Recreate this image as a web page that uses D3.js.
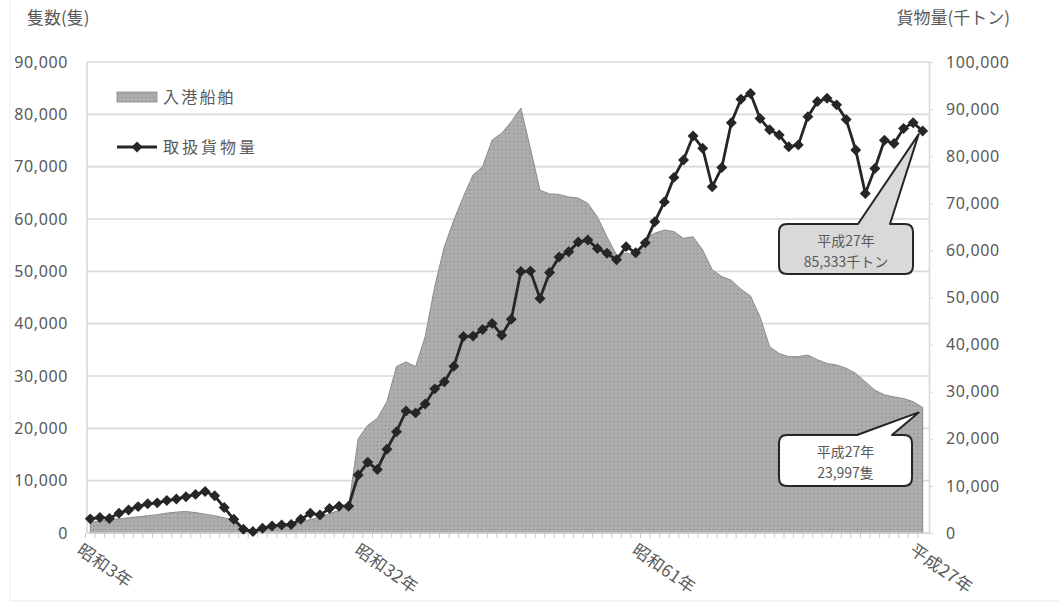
<!DOCTYPE html>
<html>
<head>
<meta charset="utf-8">
<script src="https://cdn.jsdelivr.net/npm/d3@7"></script>
<style>
  body { margin: 0; background: #fff; }
  text { font-family: "Noto Sans CJK JP", "Noto Sans", sans-serif; fill: #595959; }
</style>
</head>
<body>
<svg></svg>
<script>
// 昭和3年(1928) - 平成27年(2015)
const years = [
  1928, 1929, 1930, 1931, 1932, 1933, 1934, 1935, 1936, 1937,
  1938, 1939, 1940, 1941, 1942, 1943, 1944, 1945, 1946, 1947,
  1948, 1949, 1950, 1951, 1952, 1953, 1954, 1955, 1956, 1957,
  1958, 1959, 1960, 1961, 1962, 1963, 1964, 1965, 1966, 1967,
  1968, 1969, 1970, 1971, 1972, 1973, 1974, 1975, 1976, 1977,
  1978, 1979, 1980, 1981, 1982, 1983, 1984, 1985, 1986, 1987,
  1988, 1989, 1990, 1991, 1992, 1993, 1994, 1995, 1996, 1997,
  1998, 1999, 2000, 2001, 2002, 2003, 2004, 2005, 2006, 2007,
  2008, 2009, 2010, 2011, 2012, 2013, 2014, 2015
];

// 入港船舶 (隻)
const ships = [
  2000, 2300, 2500, 2700, 2900, 3100, 3300, 3500, 3800, 4000,
  4100, 3900, 3600, 3300, 2900, 2400, 800, 300, 700, 1000,
  1200, 1500, 2000, 2600, 3000, 3700, 4300, 5000, 18000, 20600,
  21900, 25100, 31800, 32700, 31800, 37500, 47100, 54700, 59800, 64300,
  68400, 70000, 75100, 76400, 78600, 81200, 73500, 65500, 64800, 64700,
  64200, 64000, 63000, 60400, 56600, 53100, 53500, 53000, 56300, 57300,
  57900, 57600, 56300, 56600, 54100, 50300, 49000, 48300, 46600, 45300,
  41300, 35600, 34300, 33700, 33700, 34000, 33100, 32400, 32100, 31500,
  30500, 28900, 27300, 26400, 26000, 25700, 25100, 23997
];

// 取扱貨物量 (千トン)
const cargo = [
  3000, 3300, 3100, 4200, 4900, 5600, 6200, 6400, 6900, 7200,
  7700, 8200, 8800, 7900, 5400, 2900, 800, 300, 1000, 1500,
  1700, 1800, 2900, 4200, 3800, 5200, 5700, 5700, 12300, 15000,
  13500, 17800, 21500, 25900, 25500, 27400, 30600, 32100, 35400, 41700,
  41800, 43200, 44500, 42000, 45400, 55500, 55600, 49800, 55300, 58600,
  59700, 61800, 62200, 60400, 59400, 58000, 60800, 59500, 61600, 66100,
  70300, 75500, 79200, 84300, 81700, 73500, 77600, 87100, 92100, 93300,
  88000, 85600, 84500, 82000, 82400, 88400, 91600, 92300, 90900, 87800,
  81300, 72100, 77400, 83400, 82700, 85900, 87100, 85333
];

const xLabelYears = [1928, 1957, 1986, 2015];
const xLabelTexts = ["昭和3年", "昭和32年", "昭和61年", "平成27年"];
const leftTicks = [0, 10000, 20000, 30000, 40000, 50000, 60000, 70000, 80000, 90000];
const rightTicks = [0, 10000, 20000, 30000, 40000, 50000, 60000, 70000, 80000, 90000, 100000];

function drawChart() {
  const width = 1059;
  const height = 604;
  const left = 87;
  const right = 929;
  const top = 62;
  const bottom = 533;

  const svg = d3.select("svg").attr("width", width).attr("height", height);

  // dotted fill like the original area
  const pat = svg.append("defs").append("pattern")
    .attr("id", "dots")
    .attr("width", 4)
    .attr("height", 4)
    .attr("patternUnits", "userSpaceOnUse");
  pat.append("rect").attr("width", 4).attr("height", 4).attr("fill", "#adadad");
  pat.append("rect").attr("x", 1).attr("y", 1).attr("width", 1.2).attr("height", 1.2).attr("fill", "#8a8a8a");

  // outer chart border (faint)
  svg.append("line").attr("x1", 10).attr("x2", width).attr("y1", 601).attr("y2", 601)
    .attr("stroke", "#e8e8e8");
  svg.append("line").attr("x1", 10).attr("x2", 10).attr("y1", 0).attr("y2", 601)
    .attr("stroke", "#f0f0f0");

  const x = d3.scalePoint(years, [85.5, 927.5]).padding(0.5);
  const step = x.step();
  const yL = d3.scaleLinear([0, 90000], [bottom, top]);
  const yR = d3.scaleLinear([0, 100000], [bottom, top]);

  // gridlines
  svg.append("g")
    .selectAll("line")
    .data(leftTicks)
    .join("line")
    .attr("x1", left)
    .attr("x2", right)
    .attr("y1", (d) => yL(d))
    .attr("y2", (d) => yL(d))
    .attr("stroke", "#d9d9d9")
    .attr("stroke-width", 1.6);

  // left axis labels
  const gl = svg.append("g")
    .attr("transform", `translate(${left},0)`)
    .call(d3.axisLeft(yL).tickValues(leftTicks).tickSize(0).tickPadding(19).tickFormat(d3.format(",")));
  gl.select(".domain").remove();
  gl.selectAll("text").attr("font-size", 16).attr("letter-spacing", 0.6).style("font-family", "'Noto Sans', sans-serif").attr("fill", "#595959");

  // right axis
  const gr = svg.append("g")
    .attr("transform", `translate(${right},0)`)
    .call(d3.axisRight(yR).tickValues(rightTicks).tickSize(4).tickPadding(13).tickFormat(d3.format(",")));
  gr.select(".domain").attr("stroke", "#d9d9d9").attr("stroke-width", 1.6);
  gr.selectAll("line").attr("stroke", "#d9d9d9");
  gr.selectAll("text").attr("font-size", 16).attr("letter-spacing", 0.6).style("font-family", "'Noto Sans', sans-serif").attr("fill", "#595959");

  // left axis line
  svg.append("line").attr("x1", left).attr("x2", left).attr("y1", top).attr("y2", bottom)
    .attr("stroke", "#d9d9d9").attr("stroke-width", 1.6);

  // area : 入港船舶
  svg.append("path")
    .datum(ships)
    .attr("fill", "url(#dots)")
    .attr("stroke", "#8c8c8c")
    .attr("stroke-width", 1)
    .attr("d", d3.area()
      .x((d, i) => x(years[i]))
      .y0(bottom)
      .y1((d) => yL(d)));

  // bottom axis with category ticks
  svg.append("line").attr("x1", left).attr("x2", right).attr("y1", bottom).attr("y2", bottom)
    .attr("stroke", "#d9d9d9").attr("stroke-width", 1.6);
  svg.append("g")
    .selectAll("line")
    .data(years)
    .join("line")
    .attr("x1", (d) => x(d) - step / 2)
    .attr("x2", (d) => x(d) - step / 2)
    .attr("y1", bottom)
    .attr("y2", bottom + 5)
    .attr("stroke", "#c8c8c8");

  svg.append("g")
    .selectAll("text")
    .data(xLabelYears)
    .join("text")
    .attr("transform", (d) => `translate(${x(d) - 6},${bottom + 8}) rotate(35)`)
    .attr("dy", "0.85em")
    .attr("font-size", 17)
    .attr("letter-spacing", 0.5)
    .attr("fill", "#404040")
    .text((d, i) => xLabelTexts[i]);

  // line : 取扱貨物量
  svg.append("path")
    .datum(cargo)
    .attr("fill", "none")
    .attr("stroke", "#262626")
    .attr("stroke-width", 2.8)
    .attr("d", d3.line()
      .x((d, i) => x(years[i]))
      .y((d) => yR(d)));

  const diamond = d3.symbol(d3.symbolSquare, 60);
  svg.append("g")
    .selectAll("path")
    .data(cargo)
    .join("path")
    .attr("transform", (d, i) => `translate(${x(years[i])},${yR(d)}) rotate(45)`)
    .attr("d", diamond)
    .attr("fill", "#262626");

  // legend
  svg.append("rect").attr("x", 117).attr("y", 92).attr("width", 40).attr("height", 10)
    .attr("fill", "url(#dots)").attr("stroke", "#8c8c8c").attr("stroke-width", 0.8);
  svg.append("text").attr("x", 163).attr("y", 103).attr("font-size", 16).attr("letter-spacing", 2.2).text("入港船舶");
  svg.append("line").attr("x1", 117).attr("x2", 157).attr("y1", 147).attr("y2", 147)
    .attr("stroke", "#262626").attr("stroke-width", 2.8);
  svg.append("path").attr("transform", "translate(137,147) rotate(45)").attr("d", diamond).attr("fill", "#262626");
  svg.append("text").attr("x", 163).attr("y", 153).attr("font-size", 16).attr("letter-spacing", 3).text("取扱貨物量");

  // axis titles
  svg.append("text").attr("x", 27).attr("y", 24).attr("font-size", 17).text("隻数(隻)");
  svg.append("text").attr("x", 1010).attr("y", 24).attr("font-size", 17).attr("text-anchor", "end").text("貨物量(千トン)");

  // callouts
  function callout(bx, by, bw, bh, w1, w2, tx, ty, fill, lines) {
    const r = 8;
    const p = d3.path();
    p.moveTo(bx + r, by);
    p.lineTo(w1, by);
    p.lineTo(tx, ty);
    p.lineTo(w2, by);
    p.lineTo(bx + bw - r, by);
    p.quadraticCurveTo(bx + bw, by, bx + bw, by + r);
    p.lineTo(bx + bw, by + bh - r);
    p.quadraticCurveTo(bx + bw, by + bh, bx + bw - r, by + bh);
    p.lineTo(bx + r, by + bh);
    p.quadraticCurveTo(bx, by + bh, bx, by + bh - r);
    p.lineTo(bx, by + r);
    p.quadraticCurveTo(bx, by, bx + r, by);
    p.closePath();
    svg.append("path").attr("d", p.toString())
      .attr("fill", fill).attr("stroke", "#262626").attr("stroke-width", 2).attr("stroke-linejoin", "round");
    svg.append("g")
      .selectAll("text")
      .data(lines)
      .join("text")
      .attr("x", bx + bw / 2)
      .attr("y", (d, i) => by + 22 + i * 21)
      .attr("text-anchor", "middle")
      .attr("font-size", 14)
      .text((d) => d);
  }

  const lastYear = years[years.length - 1];
  callout(779, 224, 134, 50, 858, 890, x(lastYear) - 4, yR(cargo[cargo.length - 1]) + 3, "#d9d9d9",
    ["平成27年", "85,333千トン"]);
  callout(779, 435, 133, 51, 857, 892, x(lastYear) - 4, yL(ships[ships.length - 1]) + 5, "#ffffff",
    ["平成27年", "23,997隻"]);
}

drawChart();
</script>
</body>
</html>
